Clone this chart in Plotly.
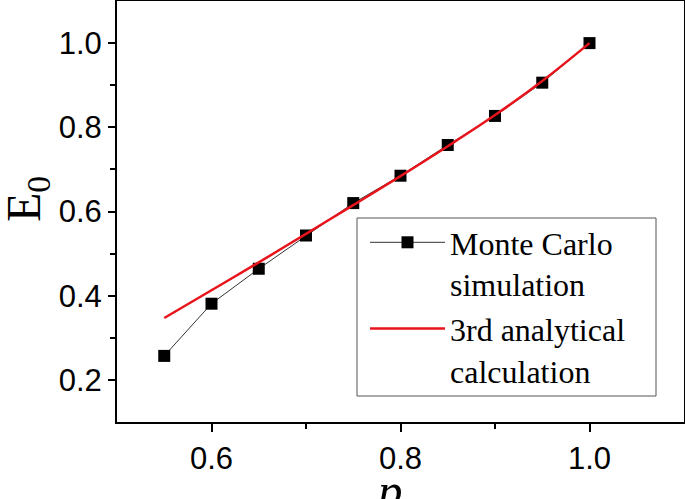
import plotly.graph_objects as go

p_values = [0.55, 0.60, 0.65, 0.70, 0.75, 0.80, 0.85, 0.90, 0.95, 1.00]
mc_E0 = [0.257, 0.381, 0.464, 0.543, 0.620, 0.685, 0.758, 0.827, 0.906, 1.000]
analytic_E0 = [0.347, 0.413, 0.479, 0.547, 0.615, 0.684, 0.755, 0.829, 0.910, 1.000]

x_ticks = [0.6, 0.8, 1.0]
x_ticklabels = ["0.6", "0.8", "1.0"]
y_ticks = [0.2, 0.4, 0.6, 0.8, 1.0]
y_ticklabels = ["0.2", "0.4", "0.6", "0.8", "1.0"]

W, H = 685, 499
L, R, T, B = 117, 1, 1, 77
pw, ph = W - L - R, H - T - B

def px_x(px):
    return (px - L) / pw

def px_y(py):
    return (H - B - py) / ph

fig = go.Figure()
fig.add_trace(go.Scatter(
    x=p_values, y=mc_E0, mode="lines+markers",
    name="Monte Carlo<br>simulation",
    line=dict(color="#333333", width=1),
    marker=dict(symbol="square", size=12, color="black"),
))
fig.add_trace(go.Scatter(
    x=p_values, y=analytic_E0, mode="lines",
    name="3rd analytical<br>calculation",
    line=dict(color="#e8141c", width=2.5, shape="spline"),
))

tick_font = dict(family="Liberation Sans, Arial", size=31, color="black")
serif = "Liberation Serif, Times New Roman"

fig.update_layout(
    width=W, height=H,
    margin=dict(l=L, r=R, t=T, b=B, autoexpand=False),
    plot_bgcolor="white", paper_bgcolor="white",
    showlegend=True,
    legend=dict(
        x=px_x(365), y=px_y(215), xanchor="left", yanchor="top",
        font=dict(family=serif, size=32, color="black"),
        borderwidth=0, bgcolor="rgba(0,0,0,0)",
        valign="top", tracegroupgap=0, itemwidth=75,
    ),
    shapes=[dict(
        type="rect", xref="paper", yref="paper",
        x0=px_x(357), x1=px_x(656), y0=px_y(396), y1=px_y(218),
        line=dict(color="#555555", width=1), fillcolor="white", layer="below",
    )],
    annotations=[
        dict(
            text="<i>p</i>", xref="paper", yref="paper",
            x=px_x(389), y=px_y(491), xanchor="center", yanchor="middle",
            showarrow=False, font=dict(family=serif, size=49, color="black"),
        ),
        dict(
            text="E<sub>0</sub>", xref="paper", yref="paper", textangle=-90,
            x=px_x(27), y=px_y(199), xanchor="center", yanchor="middle",
            showarrow=False, font=dict(family=serif, size=48, color="black"),
        ),
    ],
    xaxis=dict(
        range=[0.5, 1.1], tickvals=x_ticks, ticktext=x_ticklabels,
        ticks="outside", ticklen=8, tickwidth=2, tickcolor="black",
        minor=dict(tickvals=[0.7, 0.9], ticks="outside", ticklen=5, tickwidth=2, tickcolor="black"),
        showline=True, linewidth=2, linecolor="black", mirror=True,
        showgrid=False, zeroline=False, tickfont=tick_font, automargin=False,
    ),
    yaxis=dict(
        range=[0.1, 1.1], tickvals=y_ticks, ticktext=y_ticklabels,
        ticks="outside", ticklen=7, tickwidth=2, tickcolor="black",
        minor=dict(tickvals=[0.3, 0.5, 0.7, 0.9], ticks="outside", ticklen=5, tickwidth=2, tickcolor="black"),
        showline=True, linewidth=2, linecolor="black", mirror=True,
        showgrid=False, zeroline=False, tickfont=tick_font, automargin=False,
    ),
    xaxis2=dict(
        overlaying="x", side="top", range=[0.5, 1.1], automargin=False,
        tickvals=[0.6, 0.7, 0.8, 0.9, 1.0], ticks="inside", ticklen=8, tickwidth=2, tickcolor="black",
        showticklabels=False, showgrid=False, zeroline=False, showline=False,
    ),
    yaxis2=dict(
        overlaying="y", side="right", range=[0.1, 1.1], automargin=False,
        tickvals=[0.2, 0.3, 0.4, 0.5, 0.6, 0.7, 0.8, 0.9, 1.0], ticks="inside", ticklen=8, tickwidth=2, tickcolor="black",
        showticklabels=False, showgrid=False, zeroline=False, showline=False,
    ),
)

fig.write_html("out.html", config={"displayModeBar": False},
               post_script="document.body.style.margin='0';")
